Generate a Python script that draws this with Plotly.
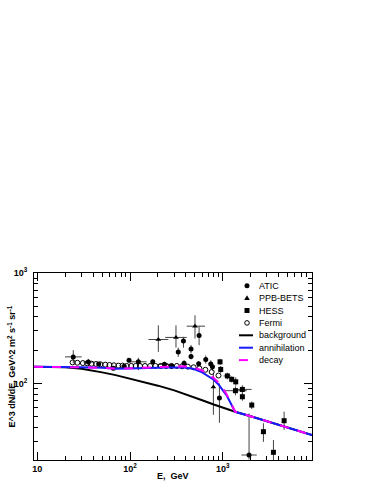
import plotly.graph_objects as go

# ---------------- data ----------------
atic_e = [24.4, 35.5, 45.9, 66.1, 86.6, 97.5, 123, 176, 235, 281, 331, 377, 383, 455, 455, 550, 556, 656, 743, 775, 921, 1923]
atic_f = [174, 156, 150, 137, 143, 162, 157, 157, 149, 143, 193, 242, 152, 205, 175, 151, 272, 165, 150, 142, 74, 22.5]
atic_ep = [26, 11, 6, 5, 6, 8, 14, 7, 8, 8, 18, 22, 10, 18, 10, 8, 55, 14, 12, 12, 26, 31]
atic_em = [22, 10, 6, 5, 6, 8, 25, 7, 8, 8, 19, 31, 10, 18, 10, 8, 50, 14, 12, 12, 30, 2]
atic_xp = [5.7, 4.7, 0, 0, 0, 0, 28, 0, 40, 0, 0, 0, 0, 0, 0, 0, 0, 0, 0, 0, 0, 407]
atic_xm = [4.5, 4.0, 0, 0, 0, 0, 23, 0, 35, 0, 0, 0, 0, 0, 0, 0, 0, 0, 0, 0, 0, 333]

ppb_e = [202, 313, 502, 793]
ppb_f = [250, 261, 330, 93]
ppb_ep = [86, 75, 84, 30]
ppb_em = [57, 50, 75, 41]
ppb_xp = [57, 96, 142, 0]
ppb_xm = [44, 74, 93, 0]

hess_e = [935, 951, 1122, 1250, 1381, 1371, 1629, 1629, 2057, 2748, 3524, 4592]
hess_f = [157, 134, 117, 109, 103.5, 86, 88.3, 75.8, 63.7, 36.6, 23.8, 46]
hess_ep = [10, 10, 8, 7, 10, 8, 8, 6, 5, 7, 7, 9.5]
hess_em = [10, 10, 8, 7, 8, 8, 8, 6, 5, 7, 5.5, 8]
hess_xp = [0, 0, 100, 0, 0, 445, 420, 0, 0, 0, 0, 0]
hess_xm = [0, 0, 100, 0, 0, 355, 330, 0, 0, 0, 0, 0]

fermi_e = [24, 27, 31, 34.5, 38.5, 43, 48, 54, 60, 67, 75, 83, 92, 103, 115, 128, 145, 165,
           188, 215, 245, 280, 320, 365, 420, 485, 560, 650, 760, 900]
fermi_f = [155, 154, 153, 152, 151, 150, 149, 148, 147, 146, 145, 145, 144, 144, 144, 144, 144, 144,
           144, 144, 144, 144, 144, 143, 142, 140, 137, 133, 127, 118]

bg_e = [9.2, 15, 20, 30, 40, 50, 70, 100, 150, 200, 300, 400, 600, 800, 1000, 1360, 2000, 3000, 5000, 9200]
bg_f = [141.5, 141, 140, 136, 131, 126, 119, 111, 102, 95.5, 86.5, 80, 70.5, 64.5, 60.5, 55.4, 50.5, 45.6, 40.1, 34.1]

ann_e = [9.2, 15, 20, 30, 50, 70, 100, 150, 250, 380, 480, 600, 700, 800, 900, 1000, 1100, 1200, 1300, 1360, 2000, 3000, 5000, 9200]
ann_f = [141.5, 141.5, 141, 140, 138.5, 136, 136.5, 138.5, 139.5, 139.5, 136, 126, 117, 108, 98, 87, 78, 68, 59.5, 55.4, 50.5, 45.6, 40.1, 34.1]

dec_e = ann_e
dec_f = [141.5, 141.5, 141, 140, 138.5, 136.5, 137, 139.5, 141.5, 143, 140, 131, 122, 112, 102, 91, 80, 69, 59.5, 55.4, 50.5, 45.6, 40.1, 34.1]

legend_labels = ["ATIC", "PPB-BETS", "HESS", "Fermi", "background", "annihilation", "decay"]

x_tickvals = [10, 100, 1000]
x_ticktext = ["10", "10<sup>2</sup>", "10<sup>3</sup>"]
y_tickvals = [100, 1000]
y_ticktext = ["10<sup>2</sup>", "10<sup>3</sup>"]

FONT = "Liberation Sans"
BLUE = "#1a1aff"
MAGENTA = "#ff00ff"

W, H = 374, 484
ML, MR, MT, MB = 34, 62, 273, 24
PW, PH = W - ML - MR, H - MT - MB


def err(plus, minus):
    return dict(type="data", array=plus, arrayminus=minus, symmetric=False,
                color="#444", thickness=1, width=0)


fig = go.Figure()

fig.add_trace(go.Scatter(x=atic_e, y=atic_f, mode="markers", name=legend_labels[0], showlegend=False,
                         marker=dict(symbol="circle", size=5, color="black"),
                         error_y=err(atic_ep, atic_em), error_x=err(atic_xp, atic_xm)))
fig.add_trace(go.Scatter(x=ppb_e, y=ppb_f, mode="markers", name=legend_labels[1], showlegend=False,
                         marker=dict(symbol="triangle-up", size=5, color="black"),
                         error_y=err(ppb_ep, ppb_em), error_x=err(ppb_xp, ppb_xm)))
fig.add_trace(go.Scatter(x=hess_e, y=hess_f, mode="markers", name=legend_labels[2], showlegend=False,
                         marker=dict(symbol="square", size=5, color="black"),
                         error_y=err(hess_ep, hess_em), error_x=err(hess_xp, hess_xm)))
fig.add_trace(go.Scatter(x=fermi_e, y=fermi_f, mode="markers", name=legend_labels[3], showlegend=False,
                         marker=dict(symbol="circle-open", size=5, color="black", line=dict(width=1))))
fig.add_trace(go.Scatter(x=bg_e, y=bg_f, mode="lines", name=legend_labels[4], showlegend=False,
                         line=dict(color="black", width=2)))
fig.add_trace(go.Scatter(x=ann_e, y=ann_f, mode="lines", name=legend_labels[5], showlegend=False,
                         line=dict(color=BLUE, width=2)))
fig.add_trace(go.Scatter(x=dec_e, y=dec_f, mode="lines", name=legend_labels[6], showlegend=False,
                         line=dict(color=MAGENTA, width=2, dash="dash")))

x_minor = [d * 10 ** k for k in (0, 1, 2, 3) for d in range(2, 10)]
y_minor = [d * 10 ** k for k in (1, 2) for d in range(2, 10)]

fig.update_xaxes(type="log", range=[0.964, 3.963], showline=True, linecolor="black", linewidth=1,
                 mirror="ticks", ticks="inside", ticklen=8, tickcolor="black",
                 tickvals=x_tickvals, ticktext=x_ticktext, showgrid=False, zeroline=False,
                 tickfont=dict(family=FONT, size=9, color="black", weight="bold"),
                 minor=dict(ticks="inside", ticklen=4, tickcolor="black", tickvals=x_minor, showgrid=False))
fig.update_yaxes(type="log", range=[1.307, 3.0], showline=True, linecolor="black", linewidth=1,
                 mirror="ticks", ticks="inside", ticklen=8, tickcolor="black",
                 tickvals=y_tickvals, ticktext=y_ticktext, showgrid=False, zeroline=False,
                 ticklabelstandoff=4,
                 tickfont=dict(family=FONT, size=9, color="black", weight="bold"),
                 minor=dict(ticks="inside", ticklen=4, tickcolor="black", tickvals=y_minor, showgrid=False))

# axis titles
fig.add_annotation(text="E,  GeV", xref="paper", yref="paper", x=0.5, y=0, yshift=-16,
                   showarrow=False, xanchor="center", yanchor="middle",
                   font=dict(family=FONT, size=9, color="black", weight="bold"))
fig.add_annotation(text="E^3 dN/dE, GeV^2 m<sup>2</sup> s<sup>-1</sup> sr<sup>-1</sup>",
                   xref="paper", yref="paper", x=0, y=0.5, xshift=-23, textangle=-90,
                   showarrow=False, xanchor="center", yanchor="middle",
                   font=dict(family=FONT, size=9, color="black", weight="bold"))

# compact legend (ROOT TLegend style): key column + labels, inside the frame
leg_key_x = (247 - ML) / PW        # paper x of marker keys
leg_text_x = (257 - ML) / PW       # paper x of label left edge
leg_row0 = (460 - 285.7) / PH      # paper y of first row
leg_step = 12.4 / PH

for i, lab in enumerate(legend_labels):
    yy = leg_row0 - i * leg_step
    fig.add_annotation(text=lab, xref="paper", yref="paper", x=leg_text_x, y=yy,
                       showarrow=False, xanchor="left", yanchor="middle",
                       font=dict(family=FONT, size=9, color="black"))
    common = dict(xref="paper", yref="paper", xsizemode="pixel", ysizemode="pixel",
                  xanchor=leg_key_x, yanchor=yy, layer="above")
    if i == 0:
        fig.add_shape(type="circle", x0=-2.5, x1=2.5, y0=-2.5, y1=2.5,
                      fillcolor="black", line=dict(width=0), **common)
    elif i == 1:
        fig.add_shape(type="path", path="M -2.8,-2 L 2.8,-2 L 0,2.8 Z",
                      fillcolor="black", line=dict(width=0), **common)
    elif i == 2:
        fig.add_shape(type="rect", x0=-2.5, x1=2.5, y0=-2.5, y1=2.5,
                      fillcolor="black", line=dict(width=0), **common)
    elif i == 3:
        fig.add_shape(type="circle", x0=-2.3, x1=2.3, y0=-2.3, y1=2.3,
                      fillcolor="white", line=dict(width=1, color="black"), **common)
    else:
        color = ["black", BLUE, MAGENTA][i - 4]
        dash = "dash" if i == 6 else "solid"
        fig.add_shape(type="line", x0=-8, x1=6, y0=0, y1=0,
                      line=dict(width=2, color=color, dash=dash), **common)

fig.update_layout(width=W, height=H, margin=dict(l=ML, r=MR, t=MT, b=MB, autoexpand=False),
                  paper_bgcolor="white", plot_bgcolor="white",
                  font=dict(family=FONT, size=9, color="black"),
                  showlegend=False)

# remove the browser's default 8px body margin so the figure fills the window exactly
fig.write_html("out.html", config={"displayModeBar": False, "staticPlot": True},
               post_script="document.body.style.margin='0';document.body.style.overflow='hidden';")
